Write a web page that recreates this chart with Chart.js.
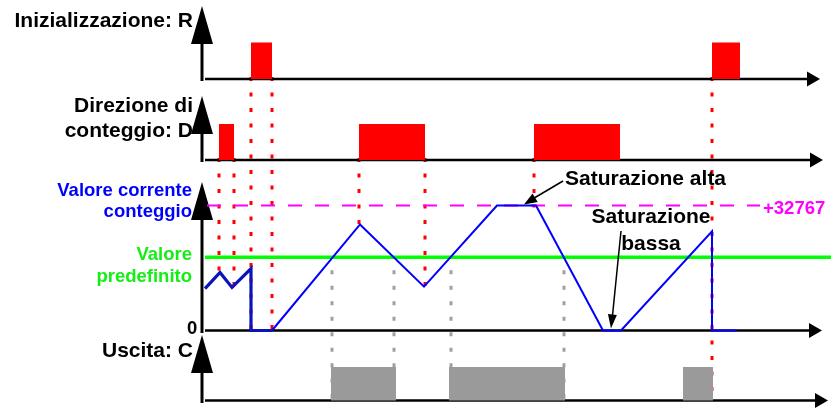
<!DOCTYPE html>
<html>
<head>
<meta charset="utf-8">
<script src="https://cdn.jsdelivr.net/npm/chart.js@4/dist/chart.umd.min.js"></script>
<style>
  html, body { margin: 0; padding: 0; background: #fff; }
  #wrap { width: 831px; height: 409px; }
</style>
</head>
<body>
<div id="wrap"><canvas id="timing"></canvas></div>
<script>
// time in arbitrary units, 0 = the vertical axes
const resetPulses = [[47, 68], [508, 536]];                   // R high
const directionPulses = [[15, 30], [155, 221], [330, 416]];   // D high
const outputPulses = [[127, 192], [245, 361], [479, 509]];    // C high

// current count value
const counterTimes  = [1, 16, 28, 47, 47, 68, 156, 220, 293, 332, 399, 417, 508, 508, 533];
const counterValues = [11000, 15200, 11300, 16250, 0, 0, 27800, 11500, 32767, 32767, 0, 0, 26000, 0, 0];
const resetIndex = 5;          // segments before this are drawn before the first reset
const maxValue = 32767;
const presetValue = 19200;

// guides
const directionEdges = [15, 30, 155, 221, 330];
const resetEdges = [47, 68];
const finalReset = 508;
const presetCrossings = [128, 190, 247, 360];

const FONT = '"Liberation Sans", Arial, sans-serif';

function pulsePoints(pulses) {
    const pts = [];
    pulses.forEach(p => {
        pts.push({x: p[0], y: 0}, {x: p[0], y: 1}, {x: p[1], y: 1}, {x: p[1], y: 0});
    });
    return pts;
}

function counterAt(t) {
    for (let i = 1; i < counterTimes.length; i++) {
        const t0 = counterTimes[i - 1], t1 = counterTimes[i];
        if (t1 > t0 && t >= t0 && t <= t1) {
            return counterValues[i - 1] + (counterValues[i] - counterValues[i - 1]) * (t - t0) / (t1 - t0);
        }
    }
    return 0;
}

function arrowHead(ctx, x1, y1, x2, y2, len, half) {
    const a = Math.atan2(y2 - y1, x2 - x1);
    ctx.beginPath();
    ctx.moveTo(x2, y2);
    ctx.lineTo(x2 - len * Math.cos(a) + half * Math.sin(a), y2 - len * Math.sin(a) - half * Math.cos(a));
    ctx.lineTo(x2 - len * Math.cos(a) - half * Math.sin(a), y2 - len * Math.sin(a) + half * Math.cos(a));
    ctx.closePath();
    ctx.fill();
}

function guide(ctx, x, y1, y2) {
    ctx.beginPath();
    ctx.moveTo(x, y1);
    ctx.lineTo(x, y2);
    ctx.stroke();
}

const tracks = [
    {id: 'reset', tipY: 6, bottomY: 81, end: 820},
    {id: 'dir', tipY: 96, bottomY: 162, end: 823},
    {id: 'count', tipY: 182, bottomY: 333, end: 822},
    {id: 'out', tipY: 335, bottomY: 403, end: 828}
];

const decorations = {
    id: 'decorations',
    beforeDatasetsDraw(chart) {
        const {ctx, chartArea, scales} = chart;
        const sx = scales.x;
        const rBase = scales.reset.getPixelForValue(0);
        const dBase = scales.dir.getPixelForValue(0);
        const countBase = scales.count.getPixelForValue(0);
        const cBase = scales.out.getPixelForValue(0);
        const presetY = scales.count.getPixelForValue(presetValue);

        ctx.save();
        // labels on the left
        ctx.textAlign = 'right';
        ctx.fillStyle = '#000';
        ctx.font = 'bold 21px ' + FONT;
        ctx.fillText('Inizializzazione: R', 193, 27);
        ctx.fillText('Direzione di', 193, 112);
        ctx.fillText('conteggio: D', 193, 137);
        ctx.fillText('Uscita: C', 193, 357);
        ctx.font = 'bold 18.5px ' + FONT;
        ctx.fillStyle = '#0000ff';
        ctx.fillText('Valore corrente', 192, 196);
        ctx.fillText('conteggio', 192, 217);
        ctx.fillStyle = '#14ee14';
        ctx.fillText('Valore', 192, 260);
        ctx.fillText('predefinito', 192, 282);
        ctx.fillStyle = '#000';
        ctx.textAlign = 'left';
        ctx.fillText('0', 187, 334);

        // dotted guides
        ctx.lineWidth = 3;
        ctx.setLineDash([4, 11.5]);
        ctx.strokeStyle = '#ff0000';
        directionEdges.forEach(t => {
            guide(ctx, sx.getPixelForValue(t), dBase - 2, scales.count.getPixelForValue(counterAt(t)) + 2);
        });
        resetEdges.forEach(t => guide(ctx, sx.getPixelForValue(t), rBase - 2, countBase + 3));
        guide(ctx, sx.getPixelForValue(finalReset), rBase - 2, cBase + 2);
        ctx.strokeStyle = '#a0a0a0';
        presetCrossings.forEach(t => guide(ctx, sx.getPixelForValue(t), presetY + 13, cBase + 2));
        ctx.setLineDash([]);

        // axes with arrows
        const ax = chartArea.left - 2;
        ctx.fillStyle = '#000';
        ctx.strokeStyle = '#000';
        tracks.forEach(tr => {
            const y0 = scales[tr.id].getPixelForValue(0);
            ctx.lineWidth = 3;
            guide(ctx, ax, tr.tipY + 30, tr.bottomY);
            ctx.beginPath();
            ctx.moveTo(ax, tr.tipY);
            ctx.lineTo(ax - 11, tr.tipY + 38);
            ctx.lineTo(ax + 11, tr.tipY + 38);
            ctx.closePath();
            ctx.fill();
            ctx.lineWidth = 2.5;
            ctx.beginPath();
            ctx.moveTo(chartArea.left + 1, y0);
            ctx.lineTo(tr.end - 10, y0);
            ctx.stroke();
            ctx.beginPath();
            ctx.moveTo(tr.end, y0);
            ctx.lineTo(tr.end - 13, y0 - 7.5);
            ctx.lineTo(tr.end - 13, y0 + 7.5);
            ctx.closePath();
            ctx.fill();
        });
        ctx.restore();
    },
    afterDatasetsDraw(chart) {
        const {ctx, scales} = chart;
        const sx = scales.x;
        const topY = scales.count.getPixelForValue(maxValue);
        const zeroY = scales.count.getPixelForValue(0);

        ctx.save();
        ctx.font = 'bold 18.5px ' + FONT;
        ctx.fillStyle = '#ff00ff';
        ctx.textAlign = 'left';
        ctx.fillText('+32767', 763, topY + 8);

        ctx.fillStyle = '#000';
        ctx.font = 'bold 21px ' + FONT;
        ctx.fillText('Saturazione alta', 565, 185);
        ctx.textAlign = 'center';
        ctx.fillText('Saturazione', 651, 223);
        ctx.fillText('bassa', 651, 250);

        ctx.strokeStyle = '#000';
        ctx.lineWidth = 1.5;
        const hx = sx.getPixelForValue(320), hy = topY - 1;
        ctx.beginPath();
        ctx.moveTo(563, 181);
        ctx.lineTo(hx + 6, hy - 4);
        ctx.stroke();
        arrowHead(ctx, 563, 181, hx, hy, 13, 5);
        const lx = sx.getPixelForValue(407), ly = zeroY - 2;
        ctx.beginPath();
        ctx.moveTo(621, 231);
        ctx.lineTo(lx + 1, ly - 8);
        ctx.stroke();
        arrowHead(ctx, 621, 231, lx, ly, 14, 4.5);
        ctx.restore();
    }
};

const counterPoints = counterTimes.map((t, i) => ({x: t, y: counterValues[i]}));

new Chart(document.getElementById('timing'), {
    type: 'line',
    data: {
        datasets: [
            {
                label: 'Valore corrente',
                data: counterPoints,
                yAxisID: 'count',
                borderColor: '#0000ff',
                borderWidth: 2,
                pointRadius: 0,
                segment: {
                    borderWidth: c => c.p0DataIndex < resetIndex ? 3.2 : 2,
                    borderColor: c => c.p0DataIndex < resetIndex ? '#0a14b8' : '#0000ff'
                }
            },
            {
                label: '+32767',
                data: [{x: 1, y: maxValue}, {x: 556, y: maxValue}],
                yAxisID: 'count',
                borderColor: '#ff00ff',
                borderWidth: 2,
                borderDash: [14, 13],
                borderDashOffset: -2,
                pointRadius: 0
            },
            {
                label: 'Valore predefinito',
                data: [{x: 1, y: presetValue}, {x: 627, y: presetValue}],
                yAxisID: 'count',
                borderColor: '#00ff00',
                borderWidth: 3.5,
                pointRadius: 0
            },
            {
                label: 'R',
                data: pulsePoints(resetPulses),
                yAxisID: 'reset',
                fill: 'origin',
                backgroundColor: '#ff0000',
                borderColor: 'rgba(0,0,0,0)',
                pointRadius: 0
            },
            {
                label: 'D',
                data: pulsePoints(directionPulses),
                yAxisID: 'dir',
                fill: 'origin',
                backgroundColor: '#ff0000',
                borderColor: 'rgba(0,0,0,0)',
                pointRadius: 0
            },
            {
                label: 'C',
                data: pulsePoints(outputPulses),
                yAxisID: 'out',
                fill: 'origin',
                backgroundColor: '#9a9a9a',
                borderColor: 'rgba(0,0,0,0)',
                pointRadius: 0
            }
        ]
    },
    options: {
        responsive: true,
        maintainAspectRatio: false,
        animation: false,
        events: [],
        layout: { padding: { left: 204, right: 0, top: 0, bottom: 0 } },
        scales: {
            x: { type: 'linear', min: 0, max: 627, display: false },
            reset: { type: 'linear', axis: 'y', position: 'left', stack: 'tracks', stackWeight: 88, weight: 4,
                 min: -0.247, max: 2.164, display: false },
            dir: { type: 'linear', axis: 'y', position: 'left', stack: 'tracks', stackWeight: 82, weight: 3,
                 min: -0.278, max: 2.0, display: false },
            count: { type: 'linear', axis: 'y', position: 'left', stack: 'tracks', stackWeight: 168, weight: 2,
                 min: -1966, max: 42073, display: false },
            out: { type: 'linear', axis: 'y', position: 'left', stack: 'tracks', stackWeight: 71, weight: 1,
                 min: -0.254, max: 1.866, display: false }
        },
        plugins: { legend: { display: false }, tooltip: { enabled: false } }
    },
    plugins: [decorations]
});
</script>
</body>
</html>
